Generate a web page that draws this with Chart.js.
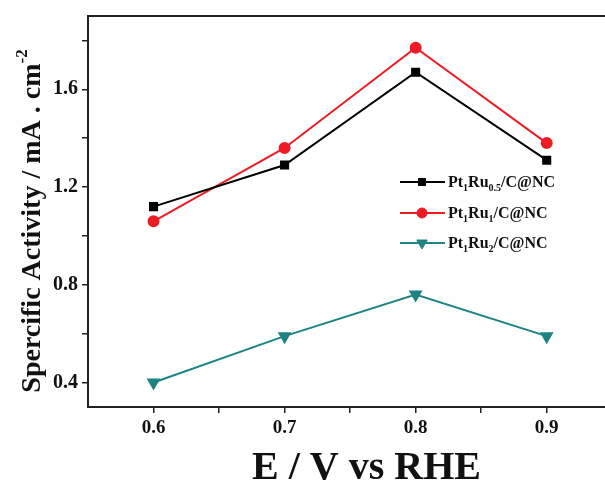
<!DOCTYPE html>
<html>
<head>
<meta charset="utf-8">
<script src="https://cdn.jsdelivr.net/npm/chart.js@4.4.1/dist/chart.umd.min.js"></script>
<style>
    html, body { margin: 0; padding: 0; background: #fff; overflow: hidden; }
</style>
</head>
<body>
<canvas id="lineChart" width="660" height="485"></canvas>
<script>
// values
const potentials = [0.6, 0.7, 0.8, 0.9];
const ptRu05 = [1.12, 1.29, 1.67, 1.31];
const ptRu1 = [1.06, 1.36, 1.77, 1.38];
const ptRu2 = [0.40, 0.59, 0.76, 0.59];
const seriesNames = ['Pt_1Ru_{0.5}/C@NC', 'Pt_1Ru_1/C@NC', 'Pt_1Ru_2/C@NC'];
const xTicks = [0.6, 0.65, 0.7, 0.75, 0.8, 0.85, 0.9, 0.95];
const xLabels = ['0.6', '0.7', '0.8', '0.9'];
const yTicks = [0.4, 0.6, 0.8, 1.0, 1.2, 1.4, 1.6, 1.8];
const yLabels = ['0.4', '0.8', '1.2', '1.6'];
const xTitle = 'E / V vs RHE';
const yTitle = 'Spercific Activity / mA . cm^{-2}';

const FONT = "'Liberation Serif', 'Times New Roman', serif";

function toPoints(ys) {
    return potentials.map((x, i) => ({ x: x, y: ys[i] }));
}

// split "Pt_1Ru_{0.5}" into plain / sub / sup pieces
function parseRich(str) {
    const parts = [];
    const re = /_\{([^}]*)\}|_(.)|\^\{([^}]*)\}|\^(.)|([^_^]+)/g;
    let m;
    while ((m = re.exec(str)) !== null) {
        if (m[1] !== undefined || m[2] !== undefined) parts.push({ t: m[1] || m[2], k: 'sub' });
        else if (m[3] !== undefined || m[4] !== undefined) parts.push({ t: m[3] || m[4], k: 'sup' });
        else parts.push({ t: m[5], k: 'n' });
    }
    return parts;
}

function richWidth(ctx, parts, size) {
    let w = 0;
    parts.forEach(p => {
        const s = p.k === 'n' ? size : Math.round(size * 0.6);
        ctx.font = 'bold ' + s + 'px ' + FONT;
        w += ctx.measureText(p.t).width;
    });
    return w;
}

function drawRich(ctx, parts, x, y, size) {
    ctx.textBaseline = 'alphabetic';
    ctx.textAlign = 'left';
    parts.forEach(p => {
        let s = size, dy = 0;
        if (p.k === 'sub') { s = Math.round(size * 0.6); dy = size * 0.25; }
        if (p.k === 'sup') { s = Math.round(size * 0.6); dy = -size * 0.45; }
        ctx.font = 'bold ' + s + 'px ' + FONT;
        ctx.fillText(p.t, x, y + dy);
        x += ctx.measureText(p.t).width;
    });
}

const decorPlugin = {
    id: 'decor',
    afterDraw(chart) {
        const ctx = chart.ctx;
        const a = chart.chartArea;
        ctx.save();

        // top and right frame
        ctx.strokeStyle = '#222';
        ctx.lineWidth = 2;
        ctx.beginPath();
        ctx.moveTo(a.left - 1, a.top);
        ctx.lineTo(a.right, a.top);
        ctx.lineTo(a.right, a.bottom);
        ctx.stroke();

        ctx.fillStyle = '#111';

        // x title
        ctx.font = 'bold 40px ' + FONT;
        ctx.textAlign = 'center';
        ctx.textBaseline = 'alphabetic';
        ctx.fillText(xTitle, (a.left + a.right) / 2, 479);

        // y title, rotated
        const yParts = parseRich(yTitle);
        const ySize = 28;
        const yw = richWidth(ctx, yParts, ySize);
        ctx.save();
        ctx.translate(40, 221);
        ctx.rotate(-Math.PI / 2);
        drawRich(ctx, yParts, -yw / 2, 0, ySize);
        ctx.restore();

        // legend
        const rows = [182, 213, 243];
        chart.data.datasets.forEach((ds, i) => {
            const y = rows[i];
            ctx.strokeStyle = ds.borderColor;
            ctx.fillStyle = ds.backgroundColor;
            ctx.lineWidth = 2;
            ctx.beginPath();
            ctx.moveTo(400, y);
            ctx.lineTo(445, y);
            ctx.stroke();
            ctx.lineWidth = 1;
            Chart.helpers.drawPoint(ctx, {
                pointStyle: ds.pointStyle,
                radius: ds.pointRadius,
                rotation: ds.pointRotation || 0,
                borderWidth: 1
            }, 422, y);
            ctx.fillStyle = '#111';
            drawRich(ctx, parseRich(seriesNames[i]), 448, y + 5, 16);
        });
        ctx.restore();
    }
};

const ctx = document.getElementById('lineChart').getContext('2d');
const chart = new Chart(ctx, {
    type: 'line',
    data: {
        datasets: [{
            label: seriesNames[0],
            data: toPoints(ptRu05),
            borderColor: '#000000',
            backgroundColor: '#000000',
            pointStyle: 'rect',
            pointRadius: 5,
            borderWidth: 2,
            tension: 0
        }, {
            label: seriesNames[1],
            data: toPoints(ptRu1),
            borderColor: '#ec1c24',
            backgroundColor: '#ec1c24',
            pointStyle: 'circle',
            pointRadius: 5,
            borderWidth: 2,
            tension: 0
        }, {
            label: seriesNames[2],
            data: toPoints(ptRu2),
            borderColor: '#1d8383',
            backgroundColor: '#1d8383',
            pointStyle: 'triangle',
            pointRotation: 180,
            pointRadius: 6,
            borderWidth: 2,
            tension: 0
        }]
    },
    options: {
        responsive: false,
        animation: false,
        layout: { padding: { left: 0, right: 15, top: 15, bottom: 0 } },
        plugins: {
            legend: { display: false },
            tooltip: { enabled: false }
        },
        scales: {
            x: {
                type: 'linear',
                min: 0.55,
                max: 0.975,
                afterBuildTicks: scale => { scale.ticks = xTicks.map(v => ({ value: v })); },
                afterFit: scale => { scale.height = 78; },
                border: { color: '#222', width: 2 },
                grid: { drawOnChartArea: false, tickLength: 6, color: '#222', lineWidth: 1.5 },
                ticks: {
                    autoSkip: false,
                    maxRotation: 0,
                    padding: 4,
                    color: '#111',
                    font: { family: FONT, size: 19, weight: 'bold' },
                    callback: v => {
                        const s = v.toFixed(2);
                        return s.endsWith('0') && xLabels.includes(v.toFixed(1)) ? v.toFixed(1) : '';
                    }
                }
            },
            y: {
                type: 'linear',
                min: 0.3,
                max: 1.9,
                afterBuildTicks: scale => { scale.ticks = yTicks.map(v => ({ value: v })); },
                afterFit: scale => { scale.width = 88; },
                border: { color: '#222', width: 2 },
                grid: { drawOnChartArea: false, tickLength: 6, color: '#222', lineWidth: 1.5 },
                ticks: {
                    autoSkip: false,
                    padding: 4,
                    color: '#111',
                    font: { family: FONT, size: 20, weight: 'bold' },
                    callback: v => {
                        const s = v.toFixed(1);
                        return yLabels.includes(s) ? s : '';
                    }
                }
            }
        }
    },
    plugins: [decorPlugin]
});
</script>
</body>
</html>
